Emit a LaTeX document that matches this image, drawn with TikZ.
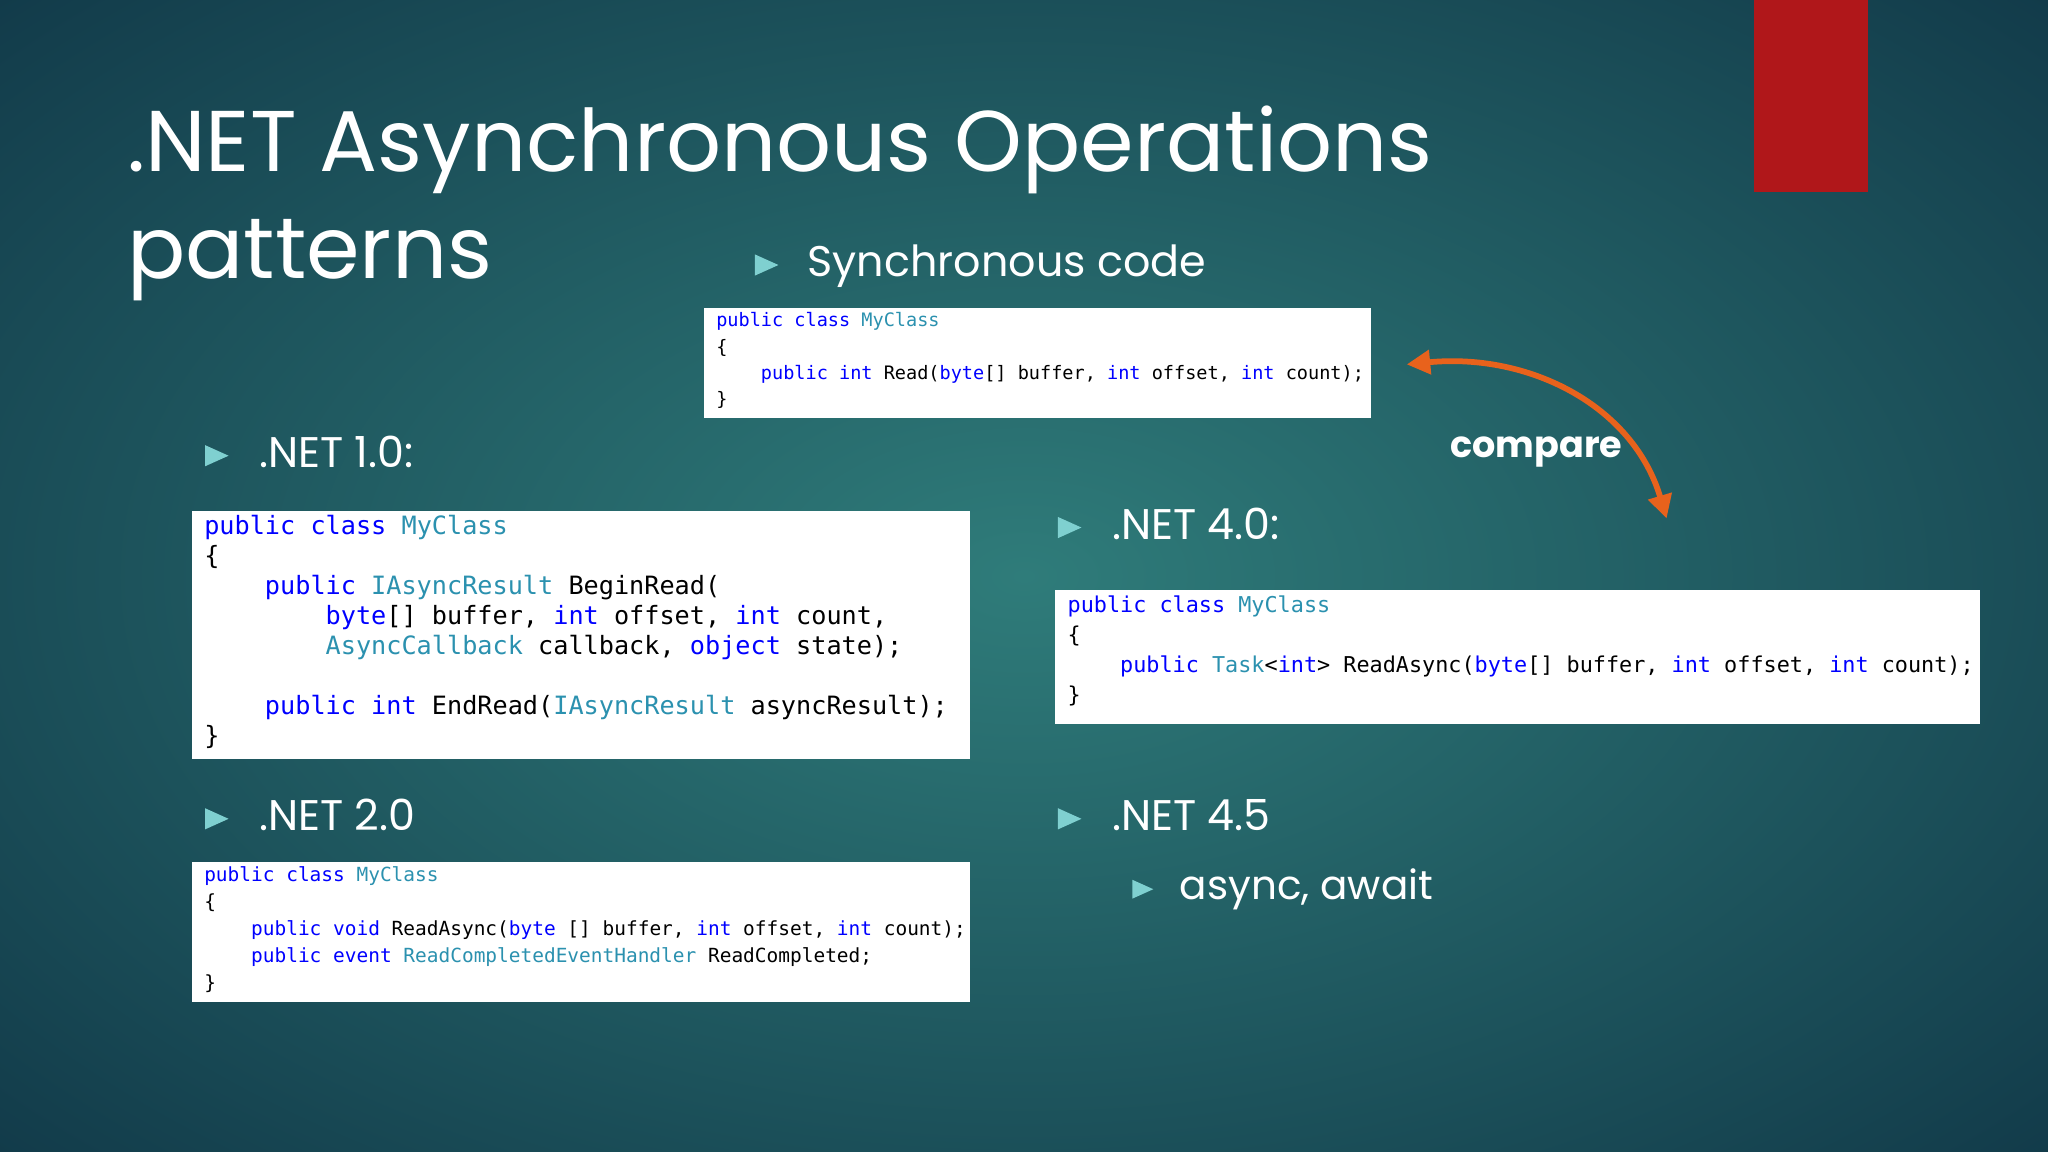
\documentclass[tikz,border=0pt]{standalone}
\usepackage{fontspec}
\setmainfont{Poppins}
\setmonofont{DejaVu Sans Mono}
\usetikzlibrary{arrows.meta}
\definecolor{bgin}{HTML}{2F7C7A}
\definecolor{bgout}{HTML}{123B4A}
\definecolor{kw}{HTML}{0000FF}
\definecolor{ty}{HTML}{2B91AF}
\definecolor{tri}{HTML}{7FD0D0}
\definecolor{redbar}{HTML}{B0171A}
\definecolor{orng}{HTML}{E8621C}
\newcommand{\kw}[1]{\textcolor{kw}{#1}}
\newcommand{\ty}[1]{\textcolor{ty}{#1}}
\newcommand{\ind}[1]{\hspace*{#1\fontcharwd\font`0}}
\tikzset{
  codebox/.style={anchor=north west, align=left, inner sep=0pt, font=\ttfamily},
  bul/.style={anchor=base west, text=white, inner sep=0pt},
}
\newcommand{\tribullet}[3]{\fill[tri] (#1,#2-#3*0.9) -- (#1+#3,#2-#3*0.45) -- (#1,#2) -- cycle;}
\begin{document}
\begin{tikzpicture}[x=0.5pt,y=-0.5pt]
\useasboundingbox (0,0) rectangle (1568,882);
\shade[inner color=bgin, outer color=bgout] (-300,-200) rectangle (1868,1082);
\fill[redbar] (1343,0) rectangle (1430,147);
% title
\node[bul, font=\fontsize{33}{40}\selectfont] (t1) at (97,131) {.NET Asynchronous Operations};
\node[bul, font=\fontsize{33}{40}\selectfont] (t2) at (97,213) {patterns};
% bullets
\tribullet{578}{211}{18}
\node[bul, font=\fontsize{16.4}{20}\selectfont] (sync) at (618,212) {Synchronous code};
\tribullet{157}{357}{18}
\node[bul, font=\fontsize{16.4}{20}\selectfont] (n10) at (198,358) {.NET 1.0:};
\tribullet{157}{635}{18}
\node[bul, font=\fontsize{16.4}{20}\selectfont] (n20) at (198,636) {.NET 2.0};
\tribullet{810}{412}{18}
\node[bul, font=\fontsize{16.4}{20}\selectfont] (n40) at (851,413) {.NET 4.0:};
\tribullet{810}{635}{18}
\node[bul, font=\fontsize{16.4}{20}\selectfont] (n45) at (851,636) {.NET 4.5};
\tribullet{867}{688}{16}
\node[bul, font=\fontsize{15.5}{20}\selectfont] (aa) at (903,689) {async, await};
% code boxes
\fill[white] (539,236) rectangle (1050,320);
\node[codebox, font=\ttfamily\fontsize{7.1}{10}\selectfont] (csync) at (548,239) {%
\kw{public class} \ty{MyClass}\\
\{\\
\ind{4}\kw{public int} Read(\kw{byte}[] buffer, \kw{int} offset, \kw{int} count);\\
\}};
\fill[white] (147,391) rectangle (743,581);
\node[codebox, font=\ttfamily\fontsize{9.65}{11.5}\selectfont] (c10) at (156,394) {%
\kw{public class} \ty{MyClass}\\
\{\\
\ind{4}\kw{public} \ty{IAsyncResult} BeginRead(\\
\ind{8}\kw{byte}[] buffer, \kw{int} offset, \kw{int} count,\\
\ind{8}\ty{AsyncCallback} callback, \kw{object} state);\\
\mbox{}\\
\ind{4}\kw{public int} EndRead(\ty{IAsyncResult} asyncResult);\\
\}};
\fill[white] (147,660) rectangle (743,767);
\node[codebox, font=\ttfamily\fontsize{7.45}{10.3}\selectfont] (c20) at (156,663) {%
\kw{public class} \ty{MyClass}\\
\{\\
\ind{4}\kw{public void} ReadAsync(\kw{byte} [] buffer, \kw{int} offset, \kw{int} count);\\
\ind{4}\kw{public event} \ty{ReadCompletedEventHandler} ReadCompleted;\\
\}};
\fill[white] (808,452) rectangle (1516,554);
\node[codebox, font=\ttfamily\fontsize{8.35}{11.5}\selectfont] (c40) at (817,456) {%
\kw{public class} \ty{MyClass}\\
\{\\
\ind{4}\kw{public} \ty{Task}<\kw{int}> ReadAsync(\kw{byte}[] buffer, \kw{int} offset, \kw{int} count);\\
\}};
% compare arrow
\coordinate (ae) at (1077,279);
\coordinate (be) at (1276,397);
\draw[orng, line width=2.2pt, {Triangle[length=9pt,width=9pt]}-{Triangle[length=9pt,width=9pt]}]
  (ae) .. controls (1170,270) and (1250,310) .. (be);
\node[bul, font=\bfseries\fontsize{14}{16}\selectfont] (cmp) at (1110,350) {compare};
\end{tikzpicture}
\end{document}
